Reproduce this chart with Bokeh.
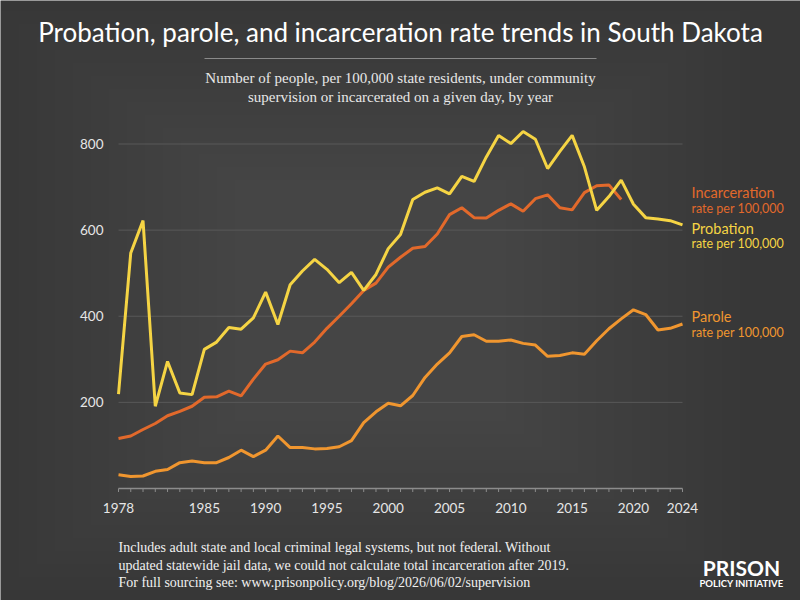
import math
from bokeh.plotting import figure
from bokeh.models import Label, Range1d, BoxAnnotation
from bokeh.core.properties import value
from bokeh.embed import file_html
from bokeh.resources import INLINE

years = list(range(1978, 2025))
probation = [219, 547, 622, 191, 295, 222, 218, 323, 340, 374, 370, 396, 456, 381,
             473, 505, 532, 509, 478, 502, 460, 497, 557, 590, 671, 688, 698, 684,
             725, 713, 770, 820, 801, 829, 811, 743, 783, 820, 747, 646, 678, 716,
             660, 629, 626, 622, 612]
incarceration = [116, 122, 137, 151, 169, 179, 191, 212, 213, 226, 215, 254, 289, 299,
                 319, 315, 340, 372, 400, 429, 460, 477, 514, 537, 558, 562, 591, 636,
                 652, 629, 628, 646, 661, 644, 673, 682, 652, 647, 687, 703, 705, 671]
inc_years = years[:len(incarceration)]
parole = [32, 28, 29, 40, 44, 60, 64, 60, 60, 72, 89, 74, 89, 122, 95, 95, 92, 93, 97,
          111, 153, 178, 198, 192, 216, 258, 289, 315, 353, 357, 342, 342, 345, 337,
          333, 307, 309, 315, 312, 343, 371, 394, 415, 404, 368, 372, 382]

x_ticks = [1978, 1985, 1990, 1995, 2000, 2005, 2010, 2015, 2020, 2024]
x_tick_labels = [str(t) for t in x_ticks]
y_ticks = [200, 400, 600, 800]
y_tick_labels = [str(t) for t in y_ticks]

title_text = "Probation, parole, and incarceration rate trends in South Dakota"
subtitle_lines = ["Number of people, per 100,000 state residents, under community",
                  "supervision or incarcerated on a given day, by year"]
footer_lines = ["Includes adult state and local criminal legal systems, but not federal. Without",
                "updated statewide jail data, we could not calculate total incarceration after 2019.",
                "For full sourcing see: www.prisonpolicy.org/blog/2026/06/02/supervision"]

C_PROB = "#f5d444"
C_INC = "#e2692b"
C_PAR = "#f0962f"
BG = "#373737"
TICK = "#e6e6e6"
AXIS = "#8c8c8c"

# plot area placement on the 800x600 canvas (pixels)
W, H = 800, 600
PX_L, PX_R = 118, 682      # first / last year
PX_Y0, PX_Y800 = 488, 143.5  # value 0 / value 800 (from top)
kx = (PX_R - PX_L) / (years[-1] - years[0])
ky = (PX_Y0 - PX_Y800) / 800.0
xr = Range1d(years[0] - PX_L / kx, years[0] + (W - PX_L) / kx)
yr = Range1d(-(H - PX_Y0) / ky, PX_Y0 / ky)

p = figure(width=W, height=H, output_backend="svg", toolbar_location=None,
           x_range=xr, y_range=yr, x_axis_location=None, y_axis_location=None,
           min_border=0)
p.background_fill_color = BG
p.border_fill_color = BG
p.outline_line_color = None
p.grid.visible = False

# soft lighter centre (vignette-like background), many faint layers
for i in range(14):
    dx = 20 + i * 18
    dy = 10 + i * 13
    p.add_layout(BoxAnnotation(left=dx - 20, right=W - dx - 40, bottom=dy, top=H - dy,
                               left_units="screen", right_units="screen",
                               top_units="screen", bottom_units="screen",
                               fill_color="#ffffff", fill_alpha=0.0065,
                               line_color=None, level="underlay"))

# grid lines
p.segment(x0=[years[0]] * len(y_ticks), x1=[years[-1]] * len(y_ticks),
          y0=y_ticks, y1=y_ticks, line_color="#585858", line_width=1)
# y tick labels
p.text(x=[years[0]] * len(y_ticks), y=y_ticks, text=y_tick_labels, x_offset=-15,
       text_align="right", text_baseline="middle", text_color=TICK,
       text_font=value("Lato"), text_font_size="13.5px")
# x axis line, ticks, labels
p.segment(x0=[years[0]], x1=[years[-1]], y0=[0], y1=[0], line_color=AXIS, line_width=1.5)
p.ray(x=years, y=[0] * len(years), length=3.5, length_units="screen",
      angle=-math.pi / 2, line_color=AXIS, line_width=1)
p.text(x=x_ticks, y=[0] * len(x_ticks), text=x_tick_labels, y_offset=19,
       text_align="center", text_baseline="middle", text_color=TICK,
       text_font=value("Lato"), text_font_size="13.5px")

p.line(years, parole, line_color=C_PAR, line_width=3)
p.line(inc_years, incarceration, line_color=C_INC, line_width=3)
p.line(years, probation, line_color=C_PROB, line_width=3)


def lab(text, cx, cy, size, color, font="Lato", align="left", style="normal"):
    p.add_layout(Label(x=cx, y=H - cy, x_units="screen", y_units="screen",
                       text=text, text_font=font, text_font_size=size,
                       text_color=color, text_align=align, text_baseline="middle",
                       text_font_style=style))


lab(title_text, 400, 31, "26px", "#ffffff", align="center")
p.add_layout(BoxAnnotation(left=204, right=596, bottom=H - 58.5, top=H - 57.5,
                           left_units="screen", right_units="screen",
                           top_units="screen", bottom_units="screen",
                           fill_color="#8a8a8a", fill_alpha=1, line_color=None))
lab(subtitle_lines[0], 400, 77, "15px", "#e8e8e8", font="Liberation Serif", align="center")
lab(subtitle_lines[1], 400, 96, "15px", "#e8e8e8", font="Liberation Serif", align="center")

lab("Incarceration", 691, 192, "14.5px", C_INC)
lab("rate per 100,000", 691, 208, "12.5px", C_INC)
lab("Probation", 691, 228, "14.5px", C_PROB)
lab("rate per 100,000", 691, 243, "12.5px", C_PROB)
lab("Parole", 691, 316, "14.5px", C_PAR)
lab("rate per 100,000", 691, 332, "12.5px", C_PAR)

for i, t in enumerate(footer_lines):
    lab(t, 118, 547 + i * 17.5, "14px", "#f0f0f0", font="Liberation Serif")

lab("PRISON", 741, 567, "21px", "#ffffff", align="center", style="bold")
lab("POLICY INITIATIVE", 741, 583, "9.5px", "#ffffff", align="center", style="bold")

open("out.html", "w").write(file_html(p, INLINE))
